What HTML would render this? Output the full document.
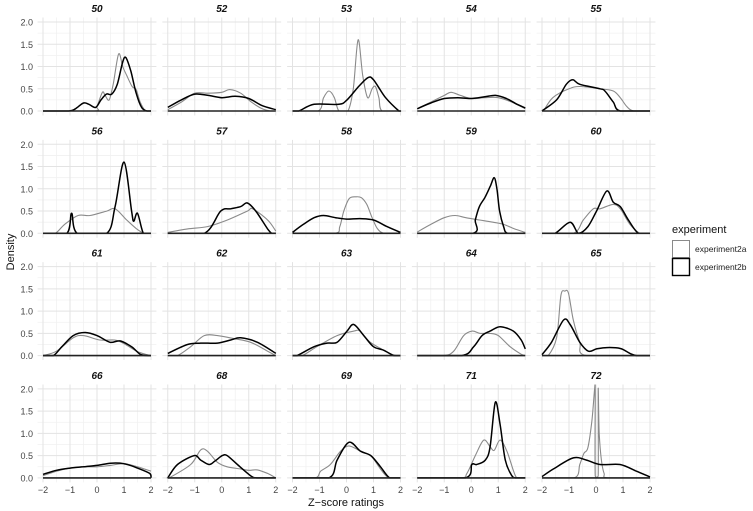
<!DOCTYPE html>
<html><head><meta charset="utf-8"><style>
html,body{margin:0;padding:0;background:#fff;}
svg{display:block;font-family:"Liberation Sans",sans-serif;}
</style></head><body>
<svg id="chart" width="753" height="511" viewBox="0 0 753 511"></svg>
<script>
const panelIds = ["50","52","53","54","55","56","57","58","59","60","61","62","63","64","65","66","68","69","71","72"];
const xTicks = [-2,-1,0,1,2];
const yTicks = [0,0.5,1,1.5,2];
const yTickLabels = ["0.0","0.5","1.0","1.5","2.0"];
const seriesNames = ["experiment2a","experiment2b"];
const exp2a = [
 [[-0.1,0],[0,0.1],[0.2,0.42],[0.3,0.35],[0.45,0.25],[0.6,0.6],[0.8,1.28],[0.95,1.0],[1.1,0.8],[1.3,0.55],[1.45,0.48],[1.6,0.2],[1.8,0]],
 [[-2,0.03],[-1.5,0.2],[-1,0.4],[-0.5,0.4],[0,0.42],[0.3,0.48],[0.7,0.4],[1.1,0.2],[1.5,0.05],[1.8,0]],
 [[-1.05,0],[-0.85,0.3],[-0.65,0.45],[-0.45,0.3],[-0.28,0],[0.05,0],[0.25,0.5],[0.43,1.6],[0.6,0.8],[0.78,0.3],[0.95,0.5],[1.07,0.55],[1.2,0.3],[1.32,0]],
 [[-2,0.05],[-1.5,0.2],[-1,0.35],[-0.75,0.42],[-0.4,0.35],[0,0.28],[0.5,0.3],[1,0.3],[1.5,0.2],[2,0.05]],
 [[-1.95,0],[-1.6,0.3],[-1,0.5],[-0.6,0.55],[0.15,0.5],[0.64,0.45],[0.9,0.3],[1.14,0.1],[1.4,0]],
 [[-1.55,0],[-1.2,0.2],[-0.7,0.4],[-0.26,0.4],[0.36,0.5],[0.67,0.55],[1.1,0.3],[1.47,0.1],[1.75,0]],
 [[-2,0.02],[-1.27,0.1],[-0.53,0.15],[0.21,0.3],[0.95,0.5],[1.14,0.55],[1.7,0.3],[2,0.05]],
 [[-0.45,0],[-0.25,0.15],[-0.1,0.5],[0.1,0.78],[0.35,0.82],[0.55,0.8],[0.75,0.65],[0.95,0.35],[1.15,0.1],[1.4,0]],
 [[-2,0.03],[-1.5,0.2],[-1,0.35],[-0.6,0.4],[-0.2,0.35],[0.3,0.3],[0.8,0.25],[1.2,0.2],[1.6,0.1],[2,0.02]],
 [[-0.84,0],[-0.47,0.3],[-0.1,0.55],[0.15,0.55],[0.64,0.65],[0.9,0.55],[1.26,0.2],[1.63,0]],
 [[-2,0],[-1.5,0.1],[-0.88,0.4],[-0.5,0.45],[0.1,0.35],[0.65,0.35],[0.97,0.28],[1.47,0.1],[1.85,0.02]],
 [[-1.64,0],[-1.15,0.2],[-0.65,0.45],[-0.16,0.45],[0.46,0.38],[1.07,0.3],[1.7,0.1],[2,0]],
 [[-1.64,0],[-1.1,0.2],[-0.35,0.45],[0.27,0.55],[0.5,0.55],[0.88,0.3],[1.6,0.05],[1.85,0]],
 [[-1.02,0],[-0.65,0.1],[-0.28,0.45],[0.04,0.55],[0.33,0.5],[0.7,0.5],[1.0,0.45],[1.44,0.2],[1.88,0.02],[2,0]],
 [[-1.77,0],[-1.46,0.4],[-1.3,1.35],[-1.15,1.45],[-1.02,1.4],[-0.84,0.8],[-0.6,0.3],[-0.35,0]],
 [[-2,0.05],[-1.5,0.15],[-1,0.22],[-0.5,0.25],[0,0.25],[0.5,0.28],[1,0.32],[1.5,0.25],[2,0.15]],
 [[-1.95,0],[-1.15,0.3],[-0.78,0.63],[-0.53,0.6],[-0.16,0.35],[0.2,0.25],[0.7,0.2],[1.0,0.17],[1.32,0.18],[1.7,0.1],[2,0]],
 [[-1.15,0],[-0.96,0.15],[-0.6,0.3],[-0.22,0.6],[0.09,0.72],[0.52,0.6],[0.9,0.5],[1.26,0.2],[1.57,0]],
 [[-0.41,0],[-0.16,0.1],[0.15,0.5],[0.46,0.85],[0.7,0.7],[0.85,0.62],[1.07,0.85],[1.32,0.6],[1.57,0.15],[1.7,0]],
 [[-0.8,0],[-0.6,0.3],[-0.45,0.55],[-0.3,0.68],[-0.15,1.3],[-0.05,2.0],[-0.03,2.0],[-0.03,0.05],[0.08,0.05],[0.08,2.0],[0.12,1.0],[0.2,0.4],[0.3,0.1],[0.45,0]]
];
const exp2b = [
 [[-1.05,0],[-0.8,0.05],[-0.5,0.18],[-0.3,0.15],[-0.05,0.08],[0.15,0.25],[0.35,0.38],[0.55,0.38],[0.75,0.6],[0.95,1.1],[1.07,1.2],[1.25,0.9],[1.45,0.4],[1.65,0.08],[1.85,0]],
 [[-2,0.08],[-1.5,0.25],[-1,0.38],[-0.5,0.35],[0,0.3],[0.5,0.33],[1,0.28],[1.5,0.12],[2,0.03]],
 [[-1.77,0],[-1.2,0.15],[-0.28,0.15],[0.02,0.25],[0.45,0.55],[0.8,0.75],[1.0,0.7],[1.45,0.3],[1.94,0]],
 [[-2,0.05],[-1.5,0.18],[-1,0.28],[-0.5,0.3],[0,0.28],[0.5,0.32],[0.9,0.35],[1.3,0.28],[1.7,0.15],[2,0.07]],
 [[-2,0],[-1.46,0.25],[-1.1,0.6],[-0.86,0.7],[-0.6,0.6],[0.15,0.5],[0.33,0.45],[0.64,0.2],[0.9,0]],
 [[-1.12,0],[-0.94,0.45],[-0.73,0],[0.36,0],[0.67,0.6],[1.0,1.6],[1.28,0.5],[1.36,0.27],[1.5,0.45],[1.72,0]],
 [[-0.65,0],[-0.04,0.5],[0.33,0.55],[0.7,0.6],[0.95,0.68],[1.26,0.5],[1.7,0.1],[1.85,0]],
 [[-2,0.02],[-1.6,0.2],[-1.2,0.35],[-0.85,0.4],[-0.4,0.35],[0,0.32],[0.5,0.33],[1,0.3],[1.5,0.15],[2,0.02]],
 [[0.05,0],[0.15,0.3],[0.3,0.6],[0.5,0.8],[0.7,1.05],[0.85,1.25],[0.95,1.0],[1.05,0.5],[1.2,0.15],[1.35,0]],
 [[-1.52,0],[-0.96,0.25],[-0.65,0],[-0.3,0.15],[0.02,0.5],[0.4,0.95],[0.64,0.7],[0.9,0.6],[1.2,0.3],[1.57,0]],
 [[-1.62,0],[-1.3,0.2],[-0.88,0.45],[-0.44,0.52],[0,0.45],[0.48,0.3],[0.85,0.33],[1.28,0.2],[1.6,0.03],[1.9,0]],
 [[-2,0.05],[-1.27,0.25],[-0.78,0.28],[-0.16,0.28],[0.33,0.35],[0.7,0.4],[1.32,0.3],[2,0.05]],
 [[-1.83,0],[-1.2,0.2],[-0.72,0.28],[-0.35,0.3],[0.02,0.55],[0.27,0.7],[0.64,0.45],[1.0,0.2],[1.38,0.12],[1.75,0]],
 [[-0.35,0],[0.09,0.2],[0.4,0.45],[0.7,0.55],[1.07,0.65],[1.56,0.55],[1.85,0.35],[2,0.15]],
 [[-2,0.02],[-1.65,0.3],[-1.2,0.8],[-0.96,0.7],[-0.6,0.3],[-0.28,0.1],[0.02,0.15],[0.4,0.18],[0.9,0.16],[1.26,0.05],[1.5,0]],
 [[-2,0.08],[-1.5,0.17],[-1,0.22],[-0.5,0.25],[0,0.28],[0.5,0.33],[1,0.32],[1.5,0.22],[1.95,0.1]],
 [[-2,0],[-1.64,0.3],[-1.02,0.5],[-0.78,0.4],[-0.47,0.3],[-0.25,0.38],[0.02,0.5],[0.2,0.5],[0.58,0.3],[1.07,0.05],[1.3,0]],
 [[-0.65,0],[-0.35,0.4],[0.09,0.8],[0.52,0.6],[0.9,0.5],[1.26,0.25],[1.6,0]],
 [[-0.22,0],[0.02,0.3],[0.2,0.3],[0.52,0.4],[0.7,0.7],[0.89,1.7],[1.07,1.2],[1.26,0.4],[1.5,0.05],[1.65,0]],
 [[-2,0.03],[-1.58,0.2],[-0.84,0.45],[-0.35,0.4],[0.15,0.3],[0.89,0.3],[1.5,0.15],[2,0.02]]
];

const NS="http://www.w3.org/2000/svg";
const svg=document.getElementById('chart');
function mk(tag,attrs,parent){const e=document.createElementNS(NS,tag);for(const k in attrs)e.setAttribute(k,attrs[k]);(parent||svg).appendChild(e);return e;}
const X0=43, COLSTEP=124.75, XS=27, Y0=111, ROWSTEP=122.3, YS=44.5;
function xScale(col,v){return X0+col*COLSTEP+(v+2)*XS;}
function yScale(row,v){return Y0+row*ROWSTEP-v*YS;}
function pathD(col,row,pts){
  let full=pts.slice();
  if(full[0][0]>-2) full.unshift([-2,0]);
  if(full[full.length-1][0]<2) full.push([2,0]);
  const P=full.map(p=>[xScale(col,p[0]),yScale(row,Math.max(0,p[1]))]);
  let d="M"+P[0][0].toFixed(1)+","+P[0][1].toFixed(1);
  for(let i=0;i<P.length-1;i++){
    const p0=P[i-1]||P[i],p1=P[i],p2=P[i+1],p3=P[i+2]||P[i+1];
    const t=0.16;
    let c1=[p1[0]+(p2[0]-p0[0])*t,p1[1]+(p2[1]-p0[1])*t];
    let c2=[p2[0]-(p3[0]-p1[0])*t,p2[1]-(p3[1]-p1[1])*t];
    const base=yScale(row,0);
    c1[1]=Math.min(c1[1],base);c2[1]=Math.min(c2[1],base);
    d+=" C"+c1[0].toFixed(1)+","+c1[1].toFixed(1)+" "+c2[0].toFixed(1)+","+c2[1].toFixed(1)+" "+p2[0].toFixed(1)+","+p2[1].toFixed(1);
  }
  return d;
}
const defs=mk('defs',{});
panelIds.forEach((id,i)=>{
  const col=i%5,row=Math.floor(i/5);
  const g=mk('g',{});
  
  
  const left=xScale(col,-2.2),right=xScale(col,2.2),top=yScale(row,2.1),bot=yScale(row,-0.1);
  const cp=mk('clipPath',{id:'cp'+i},defs);
  mk('rect',{x:left,y:top,width:right-left,height:bot-top},cp);
  for(let v=-1.5;v<=1.5;v+=1){const l=mk('line',{x1:xScale(col,v),x2:xScale(col,v),y1:top,y2:bot,stroke:'#f1f1f1','stroke-width':0.8},g);}
  for(let v=0.25;v<2;v+=0.5){const l=mk('line',{x1:left,x2:right,y1:yScale(row,v),y2:yScale(row,v),stroke:'#f1f1f1','stroke-width':0.8},g);}
  xTicks.forEach(v=>{const l=mk('line',{x1:xScale(col,v),x2:xScale(col,v),y1:top,y2:bot,stroke:'#e3e3e3','stroke-width':1},g);});
  yTicks.forEach(v=>{const l=mk('line',{x1:left,x2:right,y1:yScale(row,v),y2:yScale(row,v),stroke:'#e3e3e3','stroke-width':1},g);});
  const cg=mk('g',{'clip-path':'url(#cp'+i+')'},g);
  const a=mk('path',{d:pathD(col,row,exp2a[i]),fill:'none',stroke:'#8a8a8a','stroke-width':1.1},cg);
  
  
  const b=mk('path',{d:pathD(col,row,exp2b[i]),fill:'none',stroke:'#000','stroke-width':1.5},cg);
  
  
  const bl=mk('line',{x1:xScale(col,-2),x2:xScale(col,2),y1:yScale(row,0),y2:yScale(row,0),stroke:'#222','stroke-width':1.6},g);
  
  
  const t=mk('text',{x:xScale(col,0),y:yScale(row,2)-10,'text-anchor':'middle','font-size':10,'font-weight':'bold','font-style':'italic',fill:'#111'},g);
  t.textContent=id;
  
  
  if(col===0){yTicks.forEach((v,k)=>{const tl=mk('text',{x:33,y:yScale(row,v)+3.5,'text-anchor':'end','font-size':9,fill:'#444'},g);tl.textContent=yTickLabels[k];});}
  if(row===3){xTicks.forEach(v=>{const tl=mk('text',{x:xScale(col,v),y:493,'text-anchor':'middle','font-size':9,fill:'#444'},g);tl.textContent=(v<0?'\u2212'+(-v):String(v));});}
});
</script>
<svg style="position:absolute;left:0;top:0" width="753" height="511">
<text x="14" y="252" transform="rotate(-90 14 252)" text-anchor="middle" font-size="11" fill="#111" font-family="Liberation Sans, sans-serif">Density</text>
<text x="346" y="506" text-anchor="middle" font-size="11" fill="#111" font-family="Liberation Sans, sans-serif">Z−score ratings</text>
<g font-family="Liberation Sans, sans-serif">
<text x="672" y="233" font-size="11" fill="#111">experiment</text>
<rect x="672.5" y="240.5" width="17" height="17" fill="#fff" stroke="#8a8a8a" stroke-width="1"/>
<text x="695" y="252" font-size="8.5" fill="#222">experiment2a</text>
<rect x="672.5" y="258.5" width="17" height="17" fill="#fff" stroke="#000" stroke-width="1.4"/>
<text x="695" y="270" font-size="8.5" fill="#222">experiment2b</text>
</g>
</svg>
</body></html>
